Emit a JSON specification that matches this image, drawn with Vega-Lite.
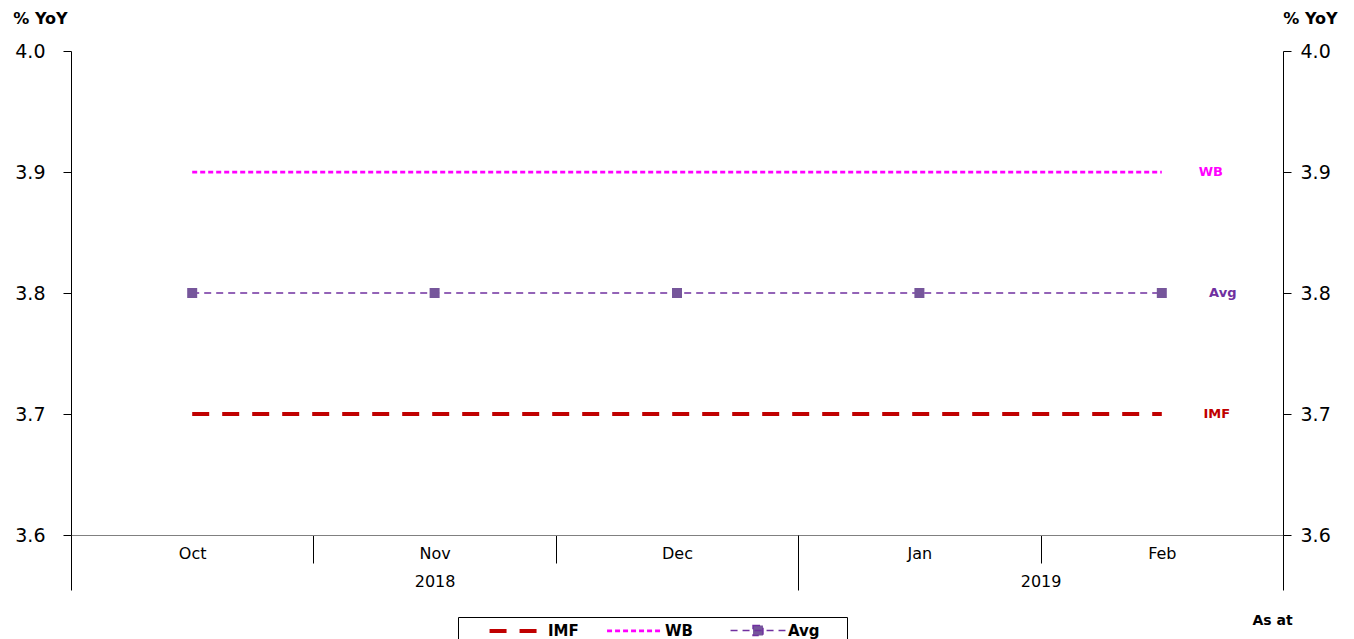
{
  "$schema": "https://vega.github.io/schema/vega-lite/v6.json",
  "width": 1212,
  "height": 484,
  "autosize": {"type": "none"},
  "padding": {"left": 71, "top": 51, "right": 71, "bottom": 104},
  "background": "white",
  "config": {
    "font": "DejaVu Sans",
    "view": {"stroke": null},
    "axis": {"grid": false, "domainColor": "black", "tickColor": "black", "labelColor": "black", "titleColor": "black", "labelFont": "DejaVu Sans", "titleFont": "DejaVu Sans"}
  },
  "datasets": {
    "f": [
      {"month": "Oct", "year": "2018", "series": "IMF", "value": 3.7},
      {"month": "Nov", "year": "2018", "series": "IMF", "value": 3.7},
      {"month": "Dec", "year": "2018", "series": "IMF", "value": 3.7},
      {"month": "Jan", "year": "2019", "series": "IMF", "value": 3.7},
      {"month": "Feb", "year": "2019", "series": "IMF", "value": 3.7},
      {"month": "Oct", "year": "2018", "series": "WB", "value": 3.9},
      {"month": "Nov", "year": "2018", "series": "WB", "value": 3.9},
      {"month": "Dec", "year": "2018", "series": "WB", "value": 3.9},
      {"month": "Jan", "year": "2019", "series": "WB", "value": 3.9},
      {"month": "Feb", "year": "2019", "series": "WB", "value": 3.9},
      {"month": "Oct", "year": "2018", "series": "Avg", "value": 3.8},
      {"month": "Nov", "year": "2018", "series": "Avg", "value": 3.8},
      {"month": "Dec", "year": "2018", "series": "Avg", "value": 3.8},
      {"month": "Jan", "year": "2019", "series": "Avg", "value": 3.8},
      {"month": "Feb", "year": "2019", "series": "Avg", "value": 3.8}
    ],
    "years": [
      {"year": "2018", "start": 0, "end": 3},
      {"year": "2019", "start": 3, "end": 5}
    ]
  },
  "layer": [
    {
      "data": {"name": "f"},
      "layer": [
        {
          "mark": {"type": "line"},
          "encoding": {
            "x": {
              "field": "month", "type": "nominal",
              "scale": {"type": "band", "domain": ["Oct", "Nov", "Dec", "Jan", "Feb"], "paddingInner": 0, "paddingOuter": 0},
              "axis": {"orient": "bottom", "tickBand": "extent", "tickSize": 28, "labelPadding": -18, "labelFontSize": 16, "labelAngle": 0, "title": null, "domainColor": "#808080"}
            },
            "y": {
              "field": "value", "type": "quantitative",
              "scale": {"domain": [3.6, 4.0], "nice": false, "zero": false},
              "axis": {"orient": "left", "values": [3.6, 3.7, 3.8, 3.9, 4.0], "format": ".1f", "tickSize": 8, "labelPadding": 18, "labelFontSize": 19, "title": "% YoY", "titleAngle": 0, "titleX": -31, "titleY": -33, "titleAlign": "center", "titleBaseline": "middle", "titleFontSize": 16, "titleFontWeight": "bold"}
            },
            "color": {
              "field": "series", "type": "nominal",
              "scale": {"domain": ["IMF", "WB", "Avg"], "range": ["#C00000", "#FF00FF", "#7030A0"]},
              "legend": {
                "orient": "none", "legendX": 387, "legendY": 566, "direction": "horizontal",
                "title": " ", "titleOrient": "left", "titlePadding": 45,
                "padding": 3, "strokeColor": "black", "fillColor": "white", "columnPadding": 22,
                "symbolSize": 324, "symbolType": "stroke",
                "labelFontSize": 15, "labelFontWeight": "bold", "labelOffset": 20, "labelColor": "black",
                "labelExpr": "datum.label === 'Avg' ? 'Avg\u2800\u2800' : (datum.label === 'WB' ? 'WB\u2800' : datum.label)",
                "encode": {"symbols": {"update": {
                  "shape": {"signal": "datum.value === 'Avg' ? 'M-3.05,0H3.05M-0.55,-0.55H0.55V0.55H-0.55Z' : 'M-3.05,0H3.05'"},
                  "fill": {"signal": "datum.value === 'Avg' ? '#76569b' : 'transparent'"}
                }}}
              }
            },
            "strokeDash": {
              "field": "series", "type": "nominal",
              "scale": {"domain": ["IMF", "WB", "Avg"], "range": [[17, 13], [5, 3], [7, 5]]},
              "legend": {"title": " "}
            },
            "strokeWidth": {
              "field": "series", "type": "nominal",
              "scale": {"domain": ["IMF", "WB", "Avg"], "range": [4, 1.5, 2]},
              "legend": {"title": " "}
            }
          }
        },
        {
          "transform": [{"filter": "datum.series === 'Avg'"}],
          "mark": {"type": "point", "shape": "square", "filled": true, "size": 100, "color": "#76569b", "opacity": 1},
          "encoding": {
            "x": {"field": "month", "type": "nominal"},
            "y": {"field": "value", "type": "quantitative"}
          }
        },
        {
          "transform": [{"filter": "datum.series === 'WB' && datum.month === 'Feb'"}],
          "mark": {"type": "text", "align": "center", "baseline": "middle", "dx": 49, "fontSize": 13, "fontWeight": "bold", "color": "#FF00FF"},
          "encoding": {
            "x": {"field": "month", "type": "nominal"},
            "y": {"field": "value", "type": "quantitative"},
            "text": {"field": "series"}
          }
        },
        {
          "transform": [{"filter": "datum.series === 'Avg' && datum.month === 'Feb'"}],
          "mark": {"type": "text", "align": "center", "baseline": "middle", "dx": 61, "fontSize": 13, "fontWeight": "bold", "color": "#7030A0"},
          "encoding": {
            "x": {"field": "month", "type": "nominal"},
            "y": {"field": "value", "type": "quantitative"},
            "text": {"field": "series"}
          }
        },
        {
          "transform": [{"filter": "datum.series === 'IMF' && datum.month === 'Feb'"}],
          "mark": {"type": "text", "align": "center", "baseline": "middle", "dx": 55, "fontSize": 13, "fontWeight": "bold", "color": "#C00000"},
          "encoding": {
            "x": {"field": "month", "type": "nominal"},
            "y": {"field": "value", "type": "quantitative"},
            "text": {"field": "series"}
          }
        }
      ]
    },
    {
      "data": {"name": "years"},
      "mark": {"type": "rule", "opacity": 0},
      "encoding": {
        "x": {
          "field": "start", "type": "quantitative",
          "scale": {"domain": [0, 5], "nice": false, "zero": false},
          "axis": {
            "orient": "bottom", "values": [0, 1.5, 3, 4, 5], "tickSize": 55, "domain": false,
            "labelExpr": "datum.value === 1.5 ? '2018' : (datum.value === 4 ? '2019' : '')",
            "labelPadding": -17, "labelFontSize": 16, "labelFlush": false, "labelOverlap": false,
            "tickColor": {"condition": {"test": "datum.value === 1.5 || datum.value === 4", "value": "transparent"}, "value": "black"},
            "title": "As at", "titleX": 1201, "titleY": 85, "titleAlign": "center", "titleBaseline": "middle", "titleFontSize": 14, "titleFontWeight": "bold"
          }
        },
        "x2": {"field": "end"}
      }
    },
    {
      "data": {"name": "f"},
      "mark": {"type": "point", "opacity": 0},
      "encoding": {
        "y": {
          "field": "value", "type": "quantitative",
          "axis": {"orient": "right", "values": [3.6, 3.7, 3.8, 3.9, 4.0], "format": ".1f", "tickSize": 8, "labelPadding": 9, "labelFontSize": 19, "title": "% YoY", "titleAngle": 0, "titleX": 27, "titleY": -33, "titleAlign": "center", "titleBaseline": "middle", "titleFontSize": 16, "titleFontWeight": "bold"}
        }
      }
    }
  ],
  "resolve": {"scale": {"x": "independent"}, "axis": {"x": "independent", "y": "independent"}}
}
